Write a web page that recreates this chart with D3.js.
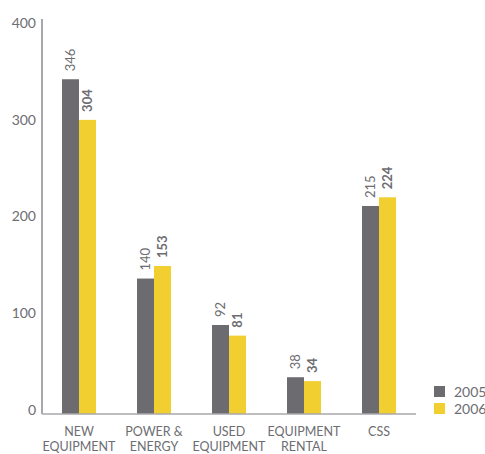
<!DOCTYPE html>
<html>
<head>
<meta charset="utf-8">
<script src="https://cdn.jsdelivr.net/npm/d3@7"></script>
<style>
  html, body { margin: 0; padding: 0; background: #fff; }
  svg { display: block; font-family: Lato, "Open Sans", sans-serif; }
</style>
</head>
<body>
<svg id="chart" width="485" height="454"></svg>
<script>
// Revenue by business segment, 2005 vs 2006
const categories = [["NEW", "EQUIPMENT"], ["POWER &", "ENERGY"], ["USED", "EQUIPMENT"], ["EQUIPMENT", "RENTAL"], ["CSS"]];
const years = ["2005", "2006"];
const values2005 = [346, 140, 92, 38, 215];
const values2006 = [304, 153, 81, 34, 224];
const yTicks = [0, 100, 200, 300, 400];

const colors = { "2005": "#6c6b70", "2006": "#f2cf31" };
const textColor = "#6d6d72";

const svg = d3.select("#chart");

const x = d3.scaleBand()
  .domain(d3.range(categories.length))
  .range([41.5, 416.5])
  .paddingInner(0.5467)
  .paddingOuter(0.2733);

const xSub = d3.scaleBand().domain(years).range([0, x.bandwidth()]);

const y = d3.scaleLinear().domain([0, 400]).range([414, 27]);

// Y axis line and tick labels
svg.append("line")
  .attr("x1", 42).attr("x2", 42)
  .attr("y1", 19).attr("y2", 414)
  .attr("stroke", "#7a797e").attr("stroke-width", 1.3);

svg.append("g").selectAll("text")
  .data(yTicks)
  .join("text")
  .attr("x", 36)
  .attr("y", d => y(d) - 4)
  .attr("dy", "0.35em")
  .attr("text-anchor", "end")
  .attr("font-size", 14)
  .attr("fill", textColor)
  .text(d => d);

// Bars
const series = years.map((yr, i) => ({ year: yr, values: i === 0 ? values2005 : values2006 }));

const groups = svg.append("g").selectAll("g")
  .data(series)
  .join("g")
  .attr("fill", d => colors[d.year]);

groups.selectAll("rect")
  .data(s => s.values.map((v, i) => ({ year: s.year, v, i })))
  .join("rect")
  .attr("x", d => x(d.i) + xSub(d.year))
  .attr("width", xSub.bandwidth())
  .attr("y", d => y(d.v))
  .attr("height", d => y(0) - y(d.v));

// Value labels, rotated
groups.selectAll("text")
  .data(s => s.values.map((v, i) => ({ year: s.year, v, i })))
  .join("text")
  .attr("transform", d => {
    const cx = x(d.i) + xSub(d.year) + xSub.bandwidth() / 2;
    return `translate(${cx},${y(d.v) - 8}) rotate(-90)`;
  })
  .attr("dy", "0.35em")
  .attr("text-anchor", "start")
  .attr("font-size", 13)
  .attr("font-weight", d => d.year === "2006" ? "bold" : "normal")
  .attr("fill", textColor)
  .text(d => d.v);

// Baseline
svg.append("line")
  .attr("x1", 42).attr("x2", 416)
  .attr("y1", 414).attr("y2", 414)
  .attr("stroke", "#a9a8ac").attr("stroke-width", 1.3);

// Category labels, one text element per line
const catLines = categories.flatMap((lines, i) => lines.map((t, j) => ({ t, i, j })));
svg.append("g").selectAll("text")
  .data(catLines)
  .join("text")
  .attr("x", d => x(d.i) + x.bandwidth() / 2)
  .attr("y", d => 435.5 + d.j * 15.5)
  .attr("text-anchor", "middle")
  .attr("font-size", 12.5)
  .attr("fill", textColor)
  .text(d => d.t);

// Legend
const legend = svg.append("g").selectAll("g")
  .data(years)
  .join("g")
  .attr("transform", (d, i) => `translate(434,${386 + i * 17})`);

legend.append("rect")
  .attr("width", 11).attr("height", 11)
  .attr("fill", d => colors[d]);

legend.append("text")
  .attr("x", 20).attr("y", 6)
  .attr("dy", "0.35em")
  .attr("font-size", 14)
  .attr("fill", textColor)
  .text(d => d);
</script>
</body>
</html>
